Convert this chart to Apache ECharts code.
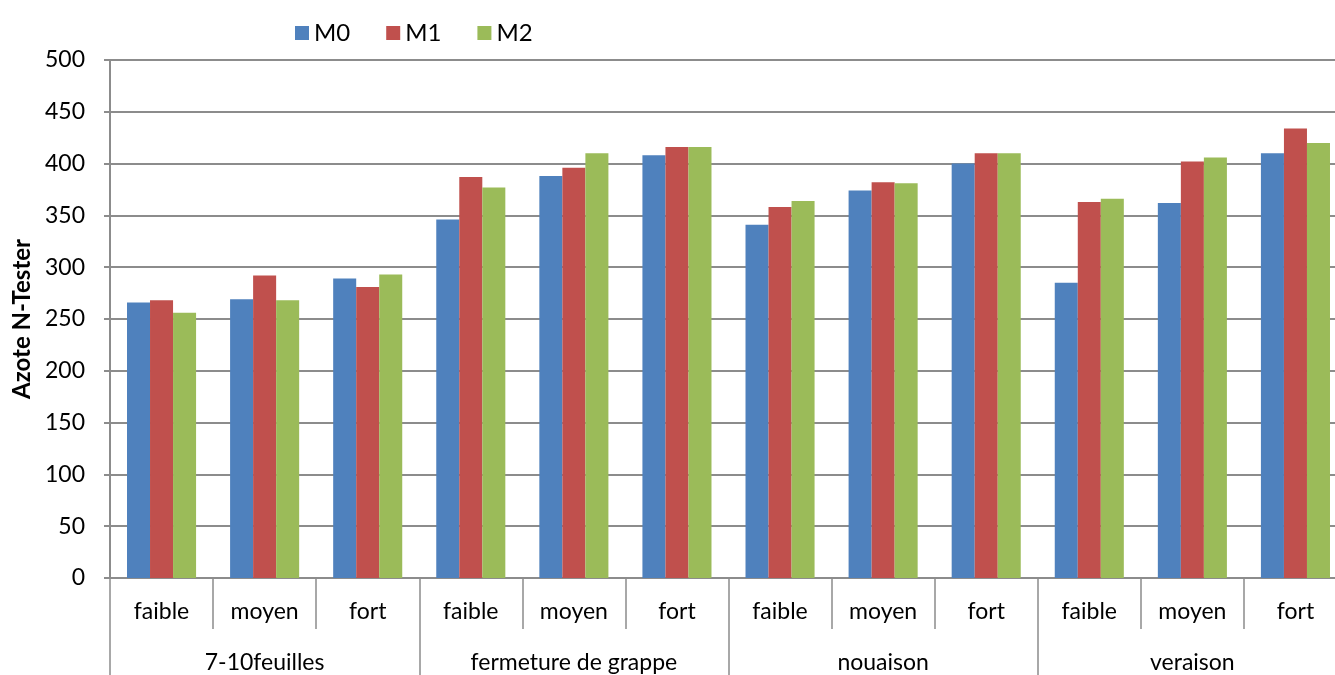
<!DOCTYPE html>
<html>
<head>
<meta charset="utf-8">
<script src="https://cdn.jsdelivr.net/npm/echarts@6/dist/echarts.min.js"></script>
<style>
  html, body { margin: 0; padding: 0; background: #fff; }
  #chart { width: 1335px; height: 675px; }
</style>
</head>
<body>
<div id="chart"></div>
<script>
// stades et doses
const stages = ['7-10feuilles', 'fermeture de grappe', 'nouaison', 'veraison']
const doses = ['faible', 'moyen', 'fort']
const yTicks = [0, 50, 100, 150, 200, 250, 300, 350, 400, 450, 500]

// valeurs N-Tester, 12 barres par série (stade x dose)
const m0 = [266, 269, 289, 346, 388, 408, 341, 374, 400, 285, 362, 410]
const m1 = [268, 292, 281, 387, 396, 416, 358, 382, 410, 363, 402, 434]
const m2 = [256, 268, 293, 377, 410, 416, 364, 381, 410, 366, 406, 420]

const categories = []
stages.forEach(() => doses.forEach(d => categories.push(d)))

const font = 'Lato, "Liberation Sans", sans-serif'
const gray = '#8c8c8c'

const chart = echarts.init(document.getElementById('chart'))

const bar = (name, data, color) => ({
  name: name,
  type: 'bar',
  data: data,
  barGap: '0%',
  barCategoryGap: '33%',
  itemStyle: { color: color },
  xAxisIndex: 0
})

chart.setOption({
  animation: false,
  textStyle: { fontFamily: font },
  legend: {
    top: 16,
    left: 290,
    itemWidth: 14,
    itemHeight: 14,
    itemGap: 36,
    icon: 'rect',
    textStyle: { fontSize: 24, color: '#000', fontFamily: font }
  },
  // le graphique original déborde à droite
  grid: { left: 110, top: 60, width: 1237, height: 518, outerBoundsMode: 'none', containLabel: false },
  xAxis: [
    {
      type: 'category',
      data: categories,
      axisLine: { show: true, lineStyle: { color: gray, width: 2 } },
      axisTick: { show: true, interval: 0, length: 51, lineStyle: { color: gray, width: 1.5 } },
      axisLabel: { interval: 0, margin: 22, fontSize: 23, color: '#000', fontFamily: font }
    },
    {
      type: 'category',
      data: stages,
      position: 'bottom',
      axisLine: { show: false },
      axisTick: { show: true, interval: 0, length: 100, lineStyle: { color: gray, width: 1.5 } },
      axisLabel: { interval: 0, margin: 73, fontSize: 23, color: '#000', fontFamily: font }
    }
  ],
  yAxis: {
    type: 'value',
    min: yTicks[0],
    max: yTicks[yTicks.length - 1],
    interval: 50,
    name: 'Azote N-Tester',
    nameLocation: 'middle',
    nameGap: 74,
    nameTextStyle: { fontSize: 24, fontWeight: 'bold', color: '#000', fontFamily: font },
    axisLine: { show: true, lineStyle: { color: gray, width: 2 } },
    axisTick: { show: true, length: 6, lineStyle: { color: gray, width: 2 } },
    axisLabel: { margin: 25, fontSize: 23, color: '#000', fontFamily: font },
    splitLine: { lineStyle: { color: gray, width: 2 } }
  },
  series: [
    bar('M0', m0, '#4F81BD'),
    bar('M1', m1, '#C0504D'),
    bar('M2', m2, '#9BBB59')
  ]
})
</script>
</body>
</html>
